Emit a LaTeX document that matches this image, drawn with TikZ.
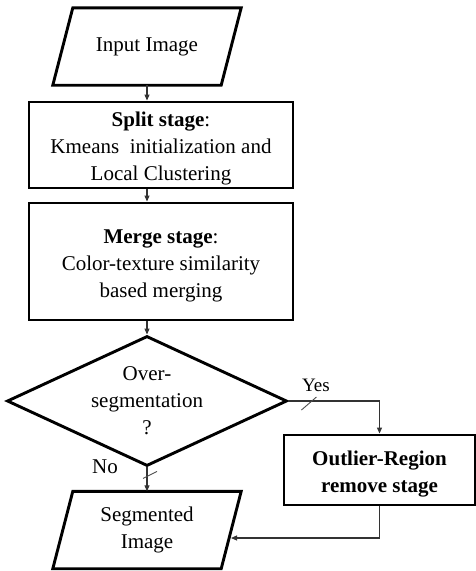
\documentclass[tikz,border=0pt]{standalone}
\usepackage{fontspec}
\setmainfont{Liberation Serif}
\usetikzlibrary{shapes.geometric}
\usetikzlibrary{arrows.meta}
\usetikzlibrary{calc}

\begin{document}
\begin{tikzpicture}[x=1pt,y=-1pt,
    every node/.style={font=\fontsize{21}{27}\selectfont,align=center},
    stage/.style={draw,line width=2.9pt,inner sep=0pt},
    io/.style={inner sep=0pt,minimum width=168pt,minimum height=77pt},
    border/.style={line width=2.9pt,line join=miter},
    conn/.style={black!80,line width=1.1pt,-{Triangle[length=6pt,width=5pt]}},
    tick/.style={black!70,line width=0.9pt}]
  \useasboundingbox (0,0) rectangle (476,571);
  \node[io] (in) at (147,46.5) {Input Image};
  \node[stage,minimum width=264pt,minimum height=86pt] (split) at (161,145)
    {\rule{0pt}{22pt}\textbf{Split stage}:\\Kmeans\ \ initialization and\\Local Clustering};
  \node[stage,minimum width=264pt,minimum height=117pt] (merge) at (161,261.5)
    {\rule{0pt}{22pt}\textbf{Merge stage}:\\Color-texture similarity\\based merging};
  \node[draw,diamond,line width=2.9pt,inner sep=0pt,aspect=2.15,
    minimum width=280pt,minimum height=130pt] (dec) at (147,401)
    {Over-\\segmentation\\?};
  \node[stage,minimum width=191pt,minimum height=70pt] (out) at (379.5,470)
    {\rule{0pt}{22pt}\textbf{Outlier-Region}\\\textbf{remove stage}};
  \node[io] (seg) at (147,530) {Segmented\\Image};
  % parallelograms
  \draw[border] ([xshift=10pt]in.north west) -- ([xshift=10pt]in.north east)
    -- ([xshift=-10pt]in.south east) -- ([xshift=-10pt]in.south west) -- cycle;
  \draw[border] ([xshift=10pt]seg.north west) -- ([xshift=10pt]seg.north east)
    -- ([xshift=-10pt]seg.south east) -- ([xshift=-10pt]seg.south west) -- cycle;
  % flow
  \draw[conn] (in.south) -- (in.south |- split.north);
  \draw[conn] (split.south -| in.south) -- (merge.north -| in.south);
  \draw[conn] (merge.south -| in.south) -- (dec.north);
  \draw[conn] (dec.east) -| (out.north);
  \node[font=\fontsize{19}{23}\selectfont] (yes) at (316,385) {Yes};
  \draw[tick] ($(dec.east)+(13,9)$) -- ++(15,-13);
  \draw[conn] (dec.south) -- (seg.north -| dec.south);
  \node (no) at (105,467) {No};
  \draw[tick] ($(dec.south)+(-4,11)$) -- ++(14,-7);
  \coordinate (segin) at (231,538);
  \draw[conn] (out.south) |- (segin);
\end{tikzpicture}
\end{document}
